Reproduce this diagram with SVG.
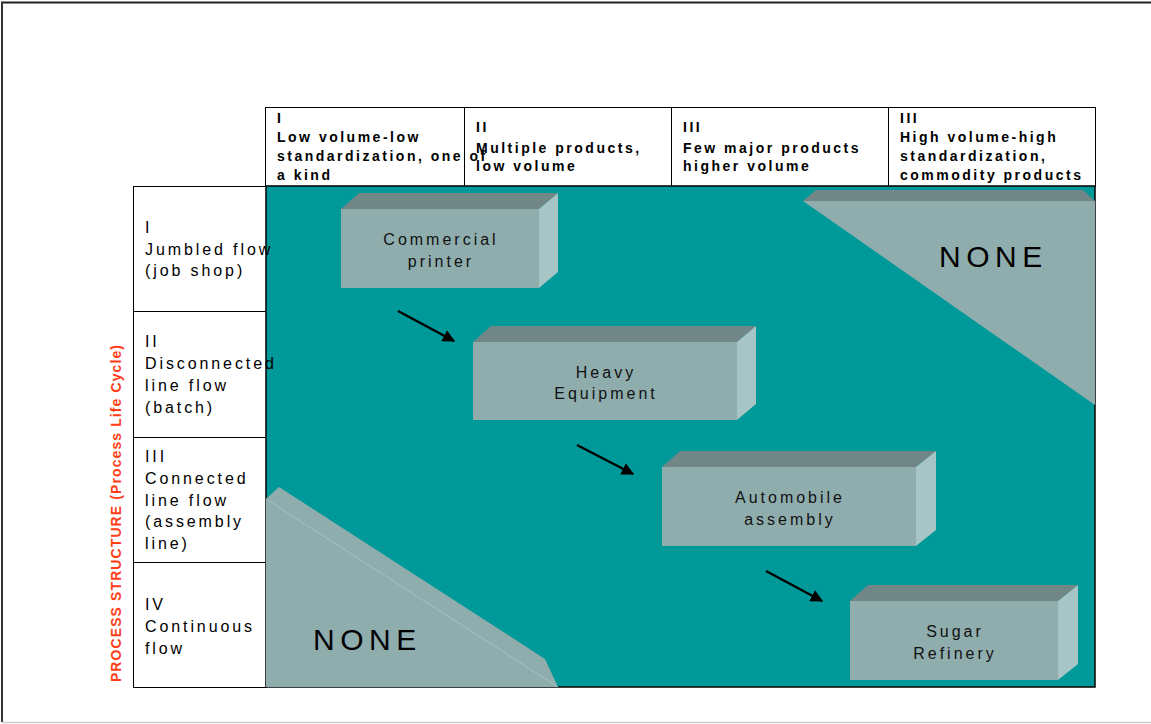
<svg xmlns="http://www.w3.org/2000/svg" width="1151" height="724" viewBox="0 0 1151 724">
  <defs>
    <style>
      .hdr { font-family: "Liberation Sans", Arial, sans-serif; font-size: 14px; font-weight: bold; letter-spacing: 2.5px; fill: #000; }
      .row { font-family: "Liberation Sans", Arial, sans-serif; font-size: 16px; letter-spacing: 2.9px; fill: #000; }
      .lbl { font-family: "Liberation Sans", Arial, sans-serif; font-size: 16px; letter-spacing: 3px; fill: #111; text-anchor: middle; }
      .none { font-family: "Liberation Sans", Arial, sans-serif; font-size: 30px; letter-spacing: 5.5px; fill: #000; }
      .cell { fill: #fff; stroke: #000; stroke-width: 1; }
      .front { fill: #8FADAD; }
      .top { fill: #718787; }
      .side { fill: #A8C5C6; }
      .arrow { stroke: #000; stroke-width: 2.5; fill: none; marker-end: url(#ah); }
    </style>
    <marker id="ah" viewBox="0 0 10 10" refX="9" refY="5" markerWidth="5" markerHeight="5" orient="auto" markerUnits="strokeWidth">
      <path d="M0,0 L10,5 L0,10 z" fill="#000"/>
    </marker>
  </defs>

  <!-- page frame -->
  <line x1="1" y1="2.5" x2="1151" y2="2.5" stroke="#222" stroke-width="2"/>
  <line x1="2" y1="2" x2="2" y2="722" stroke="#333" stroke-width="2"/>
  <line x1="2" y1="722.5" x2="1151" y2="722.5" stroke="#ccc" stroke-width="1.5"/>

  <!-- column headers -->
  <g id="col-headers">
    <rect class="cell" x="265.5" y="107.5" width="199" height="79"/>
    <rect class="cell" x="464.5" y="107.5" width="207" height="79"/>
    <rect class="cell" x="671.5" y="107.5" width="217" height="79"/>
    <rect class="cell" x="888.5" y="107.5" width="207" height="79"/>
    <text class="hdr" x="277" y="123">I</text>
    <text class="hdr" x="277" y="142">Low volume-low</text>
    <text class="hdr" x="277" y="161">standardization, one of</text>
    <text class="hdr" x="277" y="180">a kind</text>
    <text class="hdr" x="476" y="132">II</text>
    <text class="hdr" x="476" y="153">Multiple products,</text>
    <text class="hdr" x="476" y="171">low volume</text>
    <text class="hdr" x="683" y="132">III</text>
    <text class="hdr" x="683" y="153">Few major products</text>
    <text class="hdr" x="683" y="171">higher volume</text>
    <text class="hdr" x="900" y="123">III</text>
    <text class="hdr" x="900" y="142">High volume-high</text>
    <text class="hdr" x="900" y="161">standardization,</text>
    <text class="hdr" x="900" y="180">commodity products</text>
  </g>

  <!-- row headers -->
  <g id="row-headers">
    <rect class="cell" x="133.5" y="186.5" width="133" height="125"/>
    <rect class="cell" x="133.5" y="311.5" width="133" height="126"/>
    <rect class="cell" x="133.5" y="437.5" width="133" height="125"/>
    <rect class="cell" x="133.5" y="562.5" width="133" height="125"/>
  </g>

  <!-- matrix field -->
  <g id="matrix">
    <rect x="266" y="186" width="829" height="501" fill="#009999" stroke="#000" stroke-width="1.5"/>
  </g>

  <g id="row-text">
    <text class="row" x="145" y="233">I</text>
    <text class="row" x="145" y="255">Jumbled flow</text>
    <text class="row" x="145" y="276">(job shop)</text>
    <text class="row" x="145" y="347">II</text>
    <text class="row" x="145" y="369">Disconnected</text>
    <text class="row" x="145" y="391">line flow</text>
    <text class="row" x="145" y="413">(batch)</text>
    <text class="row" x="145" y="462">III</text>
    <text class="row" x="145" y="484">Connected</text>
    <text class="row" x="145" y="506">line flow</text>
    <text class="row" x="145" y="527">(assembly</text>
    <text class="row" x="145" y="549">line)</text>
    <text class="row" x="145" y="610">IV</text>
    <text class="row" x="145" y="632">Continuous</text>
    <text class="row" x="145" y="654">flow</text>
  </g>

  <!-- axis title -->
  <text x="0" y="0" transform="translate(121,513) rotate(-90)" text-anchor="middle" font-family="Liberation Sans, Arial, sans-serif" font-size="14" font-weight="bold" letter-spacing="1.1" fill="#FF3D17">PROCESS STRUCTURE (Process Life Cycle)</text>

  <!-- empty region, upper right -->
  <g id="none-upper">
    <polygon class="top" points="803,201 816,190 1083,190 1095,201"/>
    <polygon class="front" points="803,201 1095,201 1095,405"/>
    <text class="none" x="939" y="267">NONE</text>
  </g>

  <!-- empty region, lower left -->
  <g id="none-lower">
    <polygon class="front" points="266,499 279,487 545,659 558,687"/>
    <polygon class="front" points="266,499 558,687 266,687"/>
    <line x1="266" y1="499" x2="558" y2="687" stroke="#A8C5C6" stroke-width="1"/>
    <text class="none" x="313" y="650">NONE</text>
  </g>

  <!-- process boxes -->
  <g id="commercial-printer">
    <polygon class="top" points="341,209 359,193 558,193 539,209"/>
    <polygon class="side" points="539,209 558,193 558,272 539,288"/>
    <rect class="front" x="341" y="209" width="198" height="79"/>
    <text class="lbl" x="441" y="245">Commercial</text>
    <text class="lbl" x="441" y="267">printer</text>
  </g>

  <g id="heavy-equipment">
    <polygon class="top" points="473,342 491,326 756,326 737,342"/>
    <polygon class="side" points="737,342 756,326 756,404 737,420"/>
    <rect class="front" x="473" y="342" width="264" height="78"/>
    <text class="lbl" x="606" y="378">Heavy</text>
    <text class="lbl" x="606" y="399">Equipment</text>
  </g>

  <g id="automobile-assembly">
    <polygon class="top" points="662,467 680,451 936,451 916,467"/>
    <polygon class="side" points="916,467 936,451 936,530 916,546"/>
    <rect class="front" x="662" y="467" width="254" height="79"/>
    <text class="lbl" x="790" y="503">Automobile</text>
    <text class="lbl" x="790" y="525">assembly</text>
  </g>

  <g id="sugar-refinery">
    <polygon class="top" points="850,601 868,585 1078,585 1058,601"/>
    <polygon class="side" points="1058,601 1078,585 1078,664 1058,680"/>
    <rect class="front" x="850" y="601" width="208" height="79"/>
    <text class="lbl" x="955" y="637">Sugar</text>
    <text class="lbl" x="955" y="659">Refinery</text>
  </g>

  <!-- progression arrows -->
  <g id="connectors">
    <line class="arrow" x1="398" y1="311" x2="454" y2="341"/>
    <line class="arrow" x1="577" y1="445" x2="633" y2="474"/>
    <line class="arrow" x1="766" y1="571" x2="822" y2="601"/>
  </g>
</svg>
